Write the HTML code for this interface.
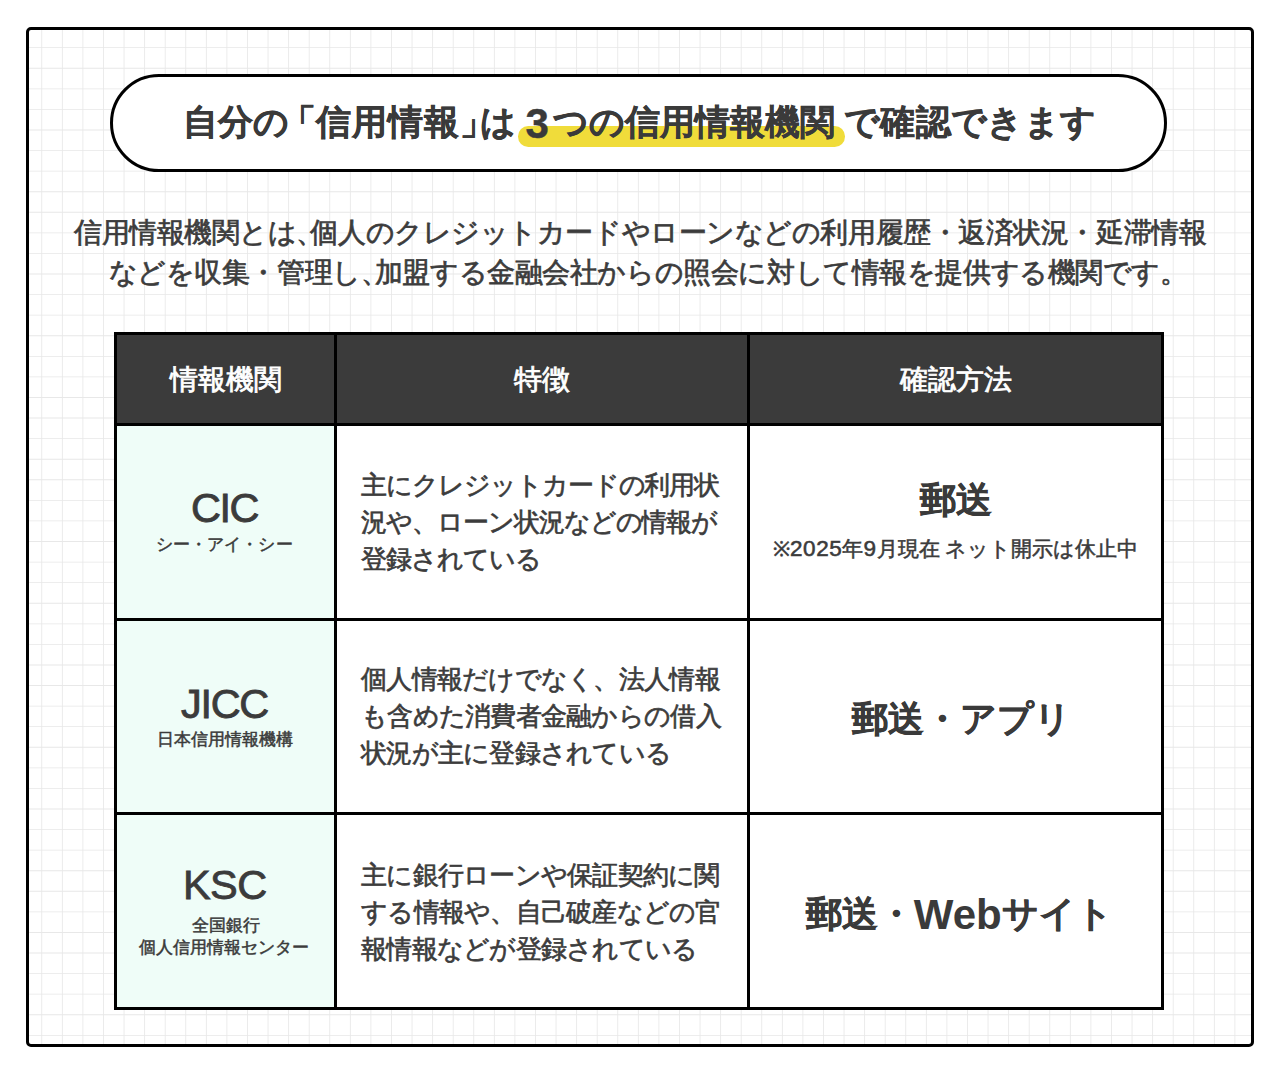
<!DOCTYPE html>
<html>
<head>
<meta charset="utf-8">
<style>
html,body{margin:0;padding:0;background:#fff;}
body{width:1280px;height:1073px;position:relative;overflow:hidden;font-family:"Liberation Sans",sans-serif;color:#3b3b3b;}
#frame{position:absolute;left:26px;top:26.5px;width:1227.5px;height:1020px;box-sizing:border-box;border:3px solid #000;border-radius:5px;overflow:hidden;background:#fff;}
#grid{position:absolute;left:0;top:0;}
#pill{position:absolute;left:110px;top:73.5px;width:1057px;height:98px;box-sizing:border-box;border:3px solid #000;border-radius:49px;background:#fff;}
#hl{position:absolute;left:518px;top:126px;width:327px;height:20.6px;border-radius:10.3px;background:#f0dc3a;}
.t{position:absolute;white-space:nowrap;line-height:1;}
.ttl{font-size:35.4px;font-weight:700;color:#3a3a3a;-webkit-text-stroke:0.4px #3a3a3a;}
.para{font-size:28px;font-weight:500;color:#3c3c3c;letter-spacing:-0.37px;-webkit-text-stroke:0.7px #3c3c3c;}
.cm{letter-spacing:-14px;}
.lat{line-height:0;}
#tbl{position:absolute;left:114px;top:332px;width:1050px;height:678px;background:#000;}
.cell{position:absolute;}
.hd{background:#3b3b3b;}
.c1{background:#effdf8;}
.c2,.c3{background:#fff;}
.hdt{font-size:28px;font-weight:500;color:#fff;-webkit-text-stroke:0.8px #fff;}
.name{font-size:41.5px;font-weight:500;color:#3b3b3b;-webkit-text-stroke:0.85px #3b3b3b;}
.sub{font-size:17px;font-weight:500;color:#3b3b3b;-webkit-text-stroke:0.5px #3b3b3b;}
.desc{font-size:25.7px;line-height:36.86px;letter-spacing:-0.95px;font-weight:500;color:#3c3c3c;-webkit-text-stroke:0.65px #3c3c3c;}
.big{font-size:35.5px;font-weight:700;color:#3a3a3a;-webkit-text-stroke:0.4px #3a3a3a;}
.note{font-size:20.57px;font-weight:500;color:#3b3b3b;-webkit-text-stroke:0.55px #3b3b3b;}
</style>
</head>
<body>
<div id="frame">
<svg id="grid" width="1228" height="1020"><path fill="#e8e8e8" d="M12.33 0h0.857v1020h-0.857zM32.90 0h0.857v1020h-0.857zM53.47 0h0.857v1020h-0.857zM74.04 0h0.857v1020h-0.857zM94.62 0h0.857v1020h-0.857zM115.19 0h0.857v1020h-0.857zM135.76 0h0.857v1020h-0.857zM156.33 0h0.857v1020h-0.857zM176.90 0h0.857v1020h-0.857zM197.47 0h0.857v1020h-0.857zM218.04 0h0.857v1020h-0.857zM238.62 0h0.857v1020h-0.857zM259.19 0h0.857v1020h-0.857zM279.76 0h0.857v1020h-0.857zM300.33 0h0.857v1020h-0.857zM320.90 0h0.857v1020h-0.857zM341.47 0h0.857v1020h-0.857zM362.04 0h0.857v1020h-0.857zM382.62 0h0.857v1020h-0.857zM403.19 0h0.857v1020h-0.857zM423.76 0h0.857v1020h-0.857zM444.33 0h0.857v1020h-0.857zM464.90 0h0.857v1020h-0.857zM485.47 0h0.857v1020h-0.857zM506.04 0h0.857v1020h-0.857zM526.61 0h0.857v1020h-0.857zM547.19 0h0.857v1020h-0.857zM567.76 0h0.857v1020h-0.857zM588.33 0h0.857v1020h-0.857zM608.90 0h0.857v1020h-0.857zM629.47 0h0.857v1020h-0.857zM650.04 0h0.857v1020h-0.857zM670.61 0h0.857v1020h-0.857zM691.19 0h0.857v1020h-0.857zM711.76 0h0.857v1020h-0.857zM732.33 0h0.857v1020h-0.857zM752.90 0h0.857v1020h-0.857zM773.47 0h0.857v1020h-0.857zM794.04 0h0.857v1020h-0.857zM814.61 0h0.857v1020h-0.857zM835.19 0h0.857v1020h-0.857zM855.76 0h0.857v1020h-0.857zM876.33 0h0.857v1020h-0.857zM896.90 0h0.857v1020h-0.857zM917.47 0h0.857v1020h-0.857zM938.04 0h0.857v1020h-0.857zM958.61 0h0.857v1020h-0.857zM979.19 0h0.857v1020h-0.857zM999.76 0h0.857v1020h-0.857zM1020.33 0h0.857v1020h-0.857zM1040.90 0h0.857v1020h-0.857zM1061.47 0h0.857v1020h-0.857zM1082.04 0h0.857v1020h-0.857zM1102.61 0h0.857v1020h-0.857zM1123.19 0h0.857v1020h-0.857zM1143.76 0h0.857v1020h-0.857zM1164.33 0h0.857v1020h-0.857zM1184.90 0h0.857v1020h-0.857zM1205.47 0h0.857v1020h-0.857zM0 17.25h1227v0.857h-1227zM0 37.83h1227v0.857h-1227zM0 58.40h1227v0.857h-1227zM0 78.98h1227v0.857h-1227zM0 99.55h1227v0.857h-1227zM0 120.13h1227v0.857h-1227zM0 140.71h1227v0.857h-1227zM0 161.28h1227v0.857h-1227zM0 181.86h1227v0.857h-1227zM0 202.43h1227v0.857h-1227zM0 223.01h1227v0.857h-1227zM0 243.59h1227v0.857h-1227zM0 264.16h1227v0.857h-1227zM0 284.74h1227v0.857h-1227zM0 305.31h1227v0.857h-1227zM0 325.89h1227v0.857h-1227zM0 346.47h1227v0.857h-1227zM0 367.04h1227v0.857h-1227zM0 387.62h1227v0.857h-1227zM0 408.19h1227v0.857h-1227zM0 428.77h1227v0.857h-1227zM0 449.35h1227v0.857h-1227zM0 469.92h1227v0.857h-1227zM0 490.50h1227v0.857h-1227zM0 511.07h1227v0.857h-1227zM0 531.65h1227v0.857h-1227zM0 552.23h1227v0.857h-1227zM0 572.80h1227v0.857h-1227zM0 593.38h1227v0.857h-1227zM0 613.95h1227v0.857h-1227zM0 634.53h1227v0.857h-1227zM0 655.11h1227v0.857h-1227zM0 675.68h1227v0.857h-1227zM0 696.26h1227v0.857h-1227zM0 716.83h1227v0.857h-1227zM0 737.41h1227v0.857h-1227zM0 757.99h1227v0.857h-1227zM0 778.56h1227v0.857h-1227zM0 799.14h1227v0.857h-1227zM0 819.71h1227v0.857h-1227zM0 840.29h1227v0.857h-1227zM0 860.87h1227v0.857h-1227zM0 881.44h1227v0.857h-1227zM0 902.02h1227v0.857h-1227zM0 922.59h1227v0.857h-1227zM0 943.17h1227v0.857h-1227zM0 963.75h1227v0.857h-1227zM0 984.32h1227v0.857h-1227zM0 1004.90h1227v0.857h-1227z"/></svg>
</div>

<div id="pill"></div>
<div id="hl"></div>
<div id="m_tA" class="t ttl" style="left:183.2px;top:105px;">自分の<span style="margin-left:-8px">「</span><span style="letter-spacing:1px">信用情報</span><span style="margin-right:-15px">」</span>は</div>
<div id="m_tB" class="t ttl" style="left:525.6px;top:105px;"><span class="lat" style="font-size:42px;margin-right:4px;position:relative;top:3.5px;">3</span>つの信用情報機関</div>
<div id="m_tC" class="t ttl" style="left:844px;top:105px;letter-spacing:0.37px;">で確認できます</div>

<div id="m_p1" class="t para" style="left:74px;top:219px;letter-spacing:-0.445px;">信用情報機関とは<span class="cm">、</span>個人のクレジットカードやローンなどの利用履歴・返済状況・延滞情報</div>
<div id="m_p2" class="t para" style="left:108.6px;top:258.6px;letter-spacing:-0.42px;">などを収集・管理し<span class="cm">、</span>加盟する金融会社からの照会に対して情報を提供する機関です。</div>

<div id="tbl">
  <div class="cell hd" style="left:3px;top:3px;width:217px;height:88px;"></div>
  <div class="cell hd" style="left:223px;top:3px;width:410px;height:88px;"></div>
  <div class="cell hd" style="left:636px;top:3px;width:411px;height:88px;"></div>
  <div class="cell c1" style="left:3px;top:94px;width:217px;height:192px;"></div>
  <div class="cell c2" style="left:223px;top:94px;width:410px;height:192px;"></div>
  <div class="cell c2" style="left:636px;top:94px;width:411px;height:192px;"></div>
  <div class="cell c1" style="left:3px;top:289px;width:217px;height:191px;"></div>
  <div class="cell c2" style="left:223px;top:289px;width:410px;height:191px;"></div>
  <div class="cell c2" style="left:636px;top:289px;width:411px;height:191px;"></div>
  <div class="cell c1" style="left:3px;top:483px;width:217px;height:192px;"></div>
  <div class="cell c2" style="left:223px;top:483px;width:410px;height:192px;"></div>
  <div class="cell c2" style="left:636px;top:483px;width:411px;height:192px;"></div>
</div>

<div id="m_h1" class="t hdt lt" style="left:170px;top:365.5px;">情報機関</div>
<div id="m_h2" class="t hdt lt" style="left:514px;top:365.5px;">特徴</div>
<div id="m_h3" class="t hdt lt" style="left:900px;top:365.5px;">確認方法</div>

<div id="m_n1" class="t name" style="left:191px;top:486.9px;letter-spacing:-1.5px;">CIC</div>
<div id="m_s1" class="t sub" style="left:155.5px;top:536px;letter-spacing:0.15px;">シー・アイ・シー</div>
<div id="m_n2" class="t name" style="left:181px;top:683.2px;letter-spacing:-1.3px;">JICC</div>
<div id="m_s2" class="t sub" style="left:156.5px;top:731px;">日本信用情報機構</div>
<div id="m_n3" class="t name" style="left:183px;top:864px;letter-spacing:-0.6px;">KSC</div>
<div id="m_s3a" class="t sub" style="left:191.5px;top:917px;">全国銀行</div>
<div id="m_s3b" class="t sub" style="left:139px;top:938.5px;">個人信用情報センター</div>

<div id="m_d1" class="t desc" style="left:361px;top:467px;letter-spacing:-1.05px;">主にクレジットカードの利用状<br>況や、ローン状況などの情報が<br>登録されている</div>
<div id="m_d2" class="t desc" style="left:361px;top:661px;letter-spacing:-0.73px;">個人情報だけでなく、法人情報<br>も含めた消費者金融からの借入<br>状況が主に登録されている</div>
<div id="m_d3" class="t desc" style="left:361px;top:857px;letter-spacing:-0.75px;">主に銀行ローンや保証契約に関<br>する情報や、自己破産などの官<br>報情報などが登録されている</div>

<div id="m_b1" class="t big" style="left:920.4px;top:483px;">郵送</div>
<div id="m_nt" class="t note" style="left:773px;top:539px;">※<span class="lat" style="font-size:22.5px;letter-spacing:0.6px">2025</span>年<span class="lat" style="font-size:22.5px;letter-spacing:0.6px">9</span>月現在 ネット開示は休止中</div>
<div id="m_b2" class="t big" style="left:851.6px;top:701.7px;">郵送・アプリ</div>
<div id="m_b3" class="t big" style="left:805.8px;top:896.7px;">郵送・<span class="lat" style="font-size:42px;position:relative;top:3.6px;-webkit-text-stroke-width:0;">Web</span>サイト</div>
</body>
</html>
